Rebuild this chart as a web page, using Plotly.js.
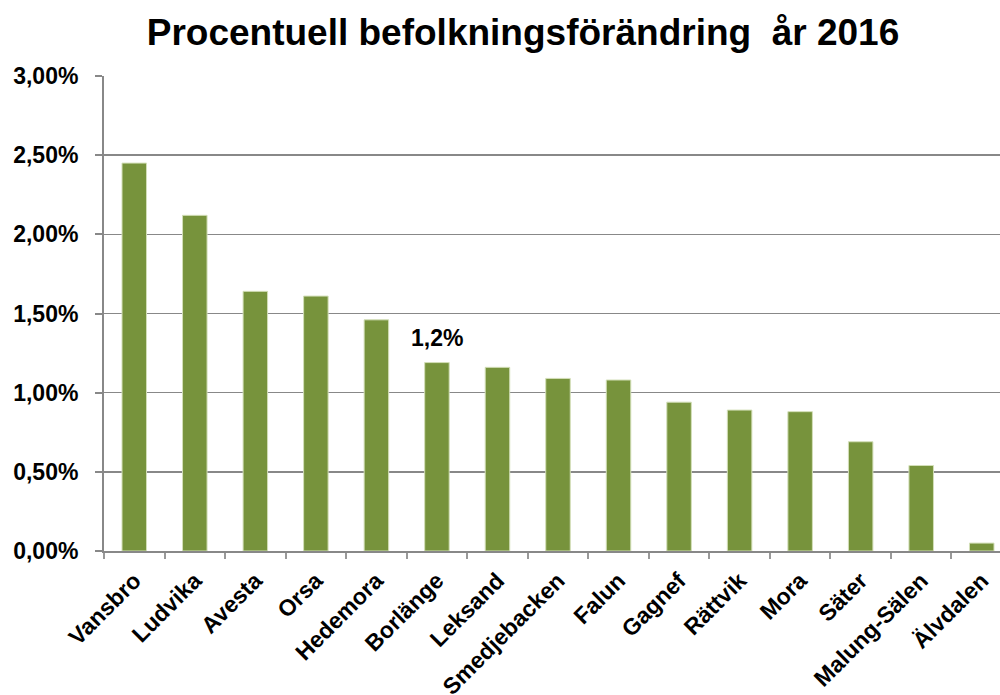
<!DOCTYPE html>
<html>
<head>
<meta charset="utf-8">
<script src="https://cdn.plot.ly/plotly-3.0.1.min.js"></script>
<style>
html,body{margin:0;padding:0;overflow:hidden;background:#fff;}
#chart{width:1012px;height:695px;}
</style>
</head>
<body>
<div id="chart"></div>
<script>
const municipalities = ["Vansbro","Ludvika","Avesta","Orsa","Hedemora","Borlänge","Leksand","Smedjebacken","Falun","Gagnef","Rättvik","Mora","Säter","Malung-Sälen","Älvdalen"];
const changeValues = [0.0245,0.0212,0.0164,0.0161,0.0146,0.0119,0.0116,0.0109,0.0108,0.0094,0.0089,0.0088,0.0069,0.0054,0.0005];
const highlighted = "Borlänge";
const highlightLabel = "1,2%";
const yTickValues = [0,0.005,0.01,0.015,0.02,0.025,0.03];

const font = "Liberation Sans, Arial, sans-serif";
const hi = municipalities.indexOf(highlighted);

const trace = {
  type: "bar",
  x: municipalities,
  y: changeValues,
  marker: {color: "#77933C", line: {color: "#d3dfb8", width: 1}},
  hoverinfo: "x+y"
};

const layout = {
  width: 1012, height: 695,
  margin: {l: 104, r: 0, t: 76, b: 144},
  paper_bgcolor: "#fff", plot_bgcolor: "#fff",
  separators: ", ",
  bargap: 0.595,
  showlegend: false,
  title: {text: "<b>Procentuell befolkningsförändring  år 2016</b>", x: 523/1012, xanchor: "center", y: 1 - 32/695, yanchor: "middle", font: {family: font, size: 37, color: "#000"}},
  xaxis: {
    type: "category",
    tickangle: -45,
    ticks: "outside", ticklen: 6, tickwidth: 2, tickcolor: "#999",
    tickson: "boundaries",
    ticklabelstandoff: 5,
    showline: true, linecolor: "#888", linewidth: 2,
    showgrid: false,
    tickfont: {family: font, size: 23, color: "#000", weight: "bold"}
  },
  yaxis: {
    range: [0, 0.03],
    tickvals: yTickValues,
    tickformat: ".2%",
    ticks: "outside", ticklen: 7, tickwidth: 2, tickcolor: "#888",
    ticklabelstandoff: 12,
    showline: true, linecolor: "#888", linewidth: 2,
    showgrid: true, gridcolor: "#888", gridwidth: 1.5,
    zeroline: false,
    tickfont: {family: font, size: 23, color: "#000", weight: "bold"}
  },
  annotations: [{
    x: municipalities[hi], y: changeValues[hi],
    xref: "x", yref: "y",
    text: "<b>" + highlightLabel + "</b>",
    showarrow: false, yanchor: "bottom", yshift: 10,
    font: {family: font, size: 23, color: "#000"}
  }]
};

Plotly.newPlot("chart", [trace], layout, {displayModeBar: false, staticPlot: true});
</script>
</body>
</html>
